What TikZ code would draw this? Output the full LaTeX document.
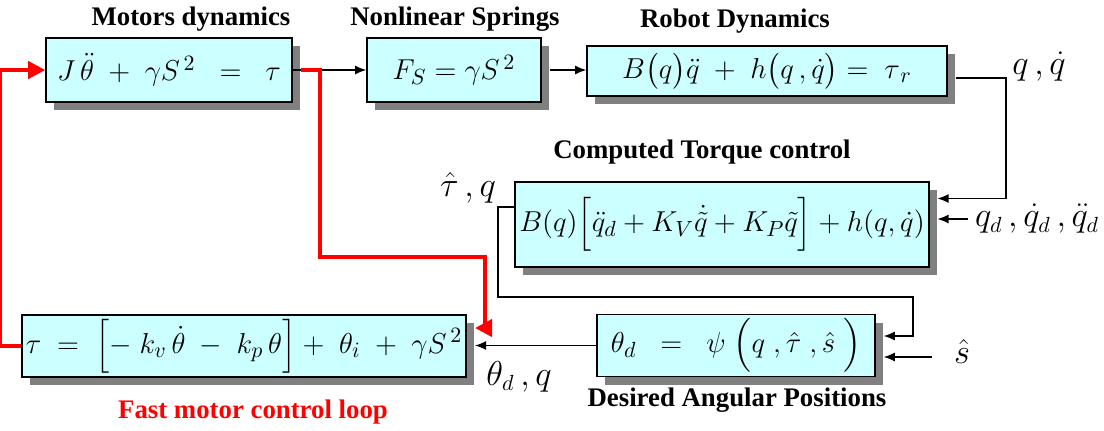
\documentclass[tikz,border=0pt]{standalone}
\usepackage{amsmath, amssymb}
\usepackage{fontspec}
\setmainfont{Liberation Serif}
\usepackage{tikz}
\usetikzlibrary{arrows.meta, shadows, positioning}

\definecolor{boxcyan}{RGB}{204,255,255}
\definecolor{shadowgray}{RGB}{128,128,128}

\tikzset{
  block/.style={draw, line width=0.8pt, fill=boxcyan, inner sep=2pt,
    drop shadow={shadow xshift=4pt, shadow yshift=-4pt, fill=shadowgray, opacity=1},
    font=\fontsize{15}{18}\selectfont},
  title/.style={font=\fontsize{13.4}{16}\selectfont\bfseries},
  sig/.style={font=\fontsize{16}{19}\selectfont},
  wire/.style={line width=0.6pt, ->},
  loopwire/.style={red, line width=2pt, -{Triangle[length=8.5pt, width=8.5pt]}},
}

\begin{document}
\begin{tikzpicture}[x=0.5pt, y=-0.5pt, >={Latex[length=5.5pt, width=4.5pt]}]
    \useasboundingbox (0,0) rectangle (1104,430);

    % Blocks
    \node[block, minimum width=123pt, minimum height=32pt] (motor) at (169,70)
        {$J\,\ddot{\theta} \;+\; \gamma S^{\,2} \;\;=\;\; \tau$};
    \node[block, minimum width=87pt, minimum height=32pt] (spring) at (454,70)
        {$F_{S} = \gamma S^{\,2}$};
    \node[block, minimum width=180pt, minimum height=25pt] (robot) at (767,71)
        {$B\bigl(q\bigr)\ddot{q} \;+\; h\bigl(q\,,\dot{q}\bigr) = \;\tau_{\,r}$};
    \node[block, minimum width=203pt, minimum height=42.5pt] (ctc) at (722,224.5)
        {$B(q)\Bigl[\ddot{q}_{d} + K_{V}\dot{\tilde{q}} + K_{P}\tilde{q}\Bigr] + h(q,\dot{q})$};
    \node[block, minimum width=139pt, minimum height=23.5pt] (desired) at (736,345.5)
        {$\theta_{d} \;\;=\;\; \psi\;\Bigl(q\;,\hat{\tau}\;,\hat{s}\;\Bigr)$};
    \node[block, minimum width=209pt, minimum height=30pt] (fastloop) at (244,346)
        {$\tau \;=\; \Bigl[-\;k_{v}\,\dot{\theta} \;-\; k_{p}\,\theta\Bigr] + \;\theta_{i} \;+\; \gamma S^{\,2}$};

    % Titles
    \node[title] (tmotor) at (191,19) {Motors dynamics};
    \node[title] (tspring) at (455,19) {Nonlinear Springs};
    \node[title] (trobot) at (735,21) {Robot Dynamics};
    \node[title] (tctc) at (702,152) {Computed Torque control};
    \node[title] (tdesired) at (737,400) {Desired Angular Positions};
    \node[title, text=red] (tfast) at (253,412) {Fast motor control loop};

    % Signal labels
    \node[sig] (qout) at (1039,67) {$q\,,\dot{q}$};
    \node[sig] (tauq) at (468,188) {$\hat{\tau}\,,q$};
    \node[sig, anchor=west] (qd) at (968,219) {$q_{d}\,,\dot{q}_{d}\,,\ddot{q}_{d}$};
    \node[sig] (shat) at (962,351) {$\hat{s}$};
    \node[sig] (thq) at (519,377) {$\theta_{d}\,,q$};

    % Bends
    \coordinate (qbend) at (1006,78);
    \coordinate (tapL) at (498,297);
    \coordinate (tapR) at (913,297);
    \coordinate (sin) at (932,357);
    \coordinate (rbend) at (320,257);
    \coordinate (rdrop) at (485,257);

    % Signal flow
    \draw[wire] (motor.east) -- (spring.west);
    \draw[wire] ([xshift=4pt]spring.east) -- (spring.east -| robot.west);
    \draw[wire] ([xshift=4pt]robot.east |- qbend) -- (qbend)
        |- ([xshift=4pt, yshift=13pt]ctc.east);
    \draw[wire] (qd.west) -- ([xshift=4pt]ctc.east |- qd.west);
    \draw[wire] ([yshift=8.75pt]ctc.west) -| (tapL) -- (tapR)
        |- ([xshift=4pt, yshift=4.75pt]desired.east);
    \draw[wire] (sin) -- ([xshift=4pt]desired.east |- sin);
    \draw[wire] (desired.west) -- ([xshift=4pt]fastloop.east |- desired.west);

    % Fast loop
    \draw[loopwire] ([xshift=4pt]motor.east) -| (rbend) -- (rdrop)
        |- ([xshift=4pt, yshift=9pt]fastloop.east);
    \draw[loopwire] (fastloop.west) -- ++(-21,0) |- (motor.west);
\end{tikzpicture}
\end{document}
